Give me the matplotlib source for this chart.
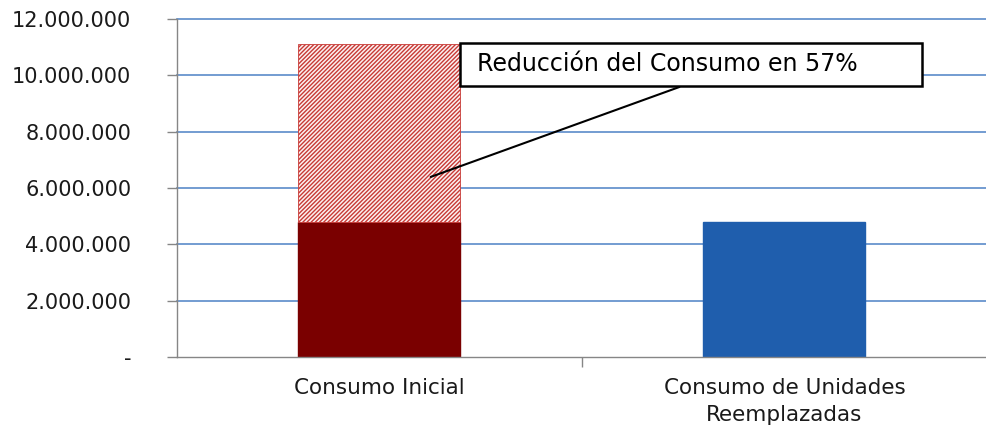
import matplotlib.pyplot as plt
from matplotlib.patches import Rectangle
from matplotlib.ticker import FuncFormatter

# Data
categorias = ["Consumo Inicial", "Consumo de Unidades\nReemplazadas"]
consumo_inicial = 11110000
consumo_reemplazo = 4790000
reduccion_pct = 57

y_ticks = [0, 2000000, 4000000, 6000000, 8000000, 10000000, 12000000]

plt.rcParams['hatch.linewidth'] = 1.0

fig = plt.figure(figsize=(9.87, 4.29), dpi=100)
ax = fig.add_axes([0.1793, 0.1678, 0.8207, 0.7879])

x = [0, 1]
width = 0.4

# first bar: dark bottom (remaining consumption) + hatched top (reduction)
ax.bar(x[0], consumo_reemplazo, width, color="#7A0000", edgecolor="#7A0000", zorder=3)
ax.bar(x[0], consumo_inicial - consumo_reemplazo, width, bottom=consumo_reemplazo,
       color="#FBF0F0", edgecolor="#C83A36", hatch="////////", linewidth=0.6, zorder=3)
# second bar
ax.bar(x[1], consumo_reemplazo, width, color="#1F5EAD", edgecolor="#1F5EAD", zorder=3)

ax.set_xlim(-0.5, 1.5)
ax.set_ylim(0, 12000000)
ax.set_yticks(y_ticks)
ax.yaxis.set_major_formatter(FuncFormatter(
    lambda v, p: "-" if v == 0 else f"{int(v):,}".replace(",", ".")))
ax.grid(axis="y", color="#5B8BC9", linewidth=1.2, zorder=0)
for gl in ax.get_ygridlines():
    gl.set_clip_on(False)
ax.get_ygridlines()[0].set_visible(False)

ax.set_xticks(x)
ax.set_xticklabels(categorias, fontsize=15.5, family="DejaVu Sans", color="#1a1a1a",
                   linespacing=1.45)
ax.set_xticks([0.5], minor=True)
ax.tick_params(axis="x", which="major", length=0, pad=15)
ax.tick_params(axis="x", which="minor", length=7, color="#868686", width=1)
ax.tick_params(axis="y", length=7, color="#868686", width=1, pad=26,
               labelsize=15, labelcolor="#1a1a1a")
for lab in ax.get_yticklabels():
    lab.set_family("DejaVu Sans")

for s in ["top", "right"]:
    ax.spines[s].set_visible(False)
for s in ["left", "bottom"]:
    ax.spines[s].set_color("#868686")
    ax.spines[s].set_linewidth(1)
    ax.spines[s].set_zorder(4)

# callout box
ax.add_patch(Rectangle((0.199, 9620000), 1.141, 1530000, facecolor="white",
                       edgecolor="black", linewidth=1.8, zorder=5))
ax.text(0.241, 10400000, f"Reducción del Consumo en {reduccion_pct}%", fontsize=17,
        family="DejaVu Sans", va="center", ha="left", zorder=6)
ax.annotate("", xy=(0.12, 6360000), xytext=(0.747, 9620000),
            arrowprops=dict(arrowstyle="-", color="black", lw=1.5), zorder=6)

fig.savefig("out.png", dpi=100)
